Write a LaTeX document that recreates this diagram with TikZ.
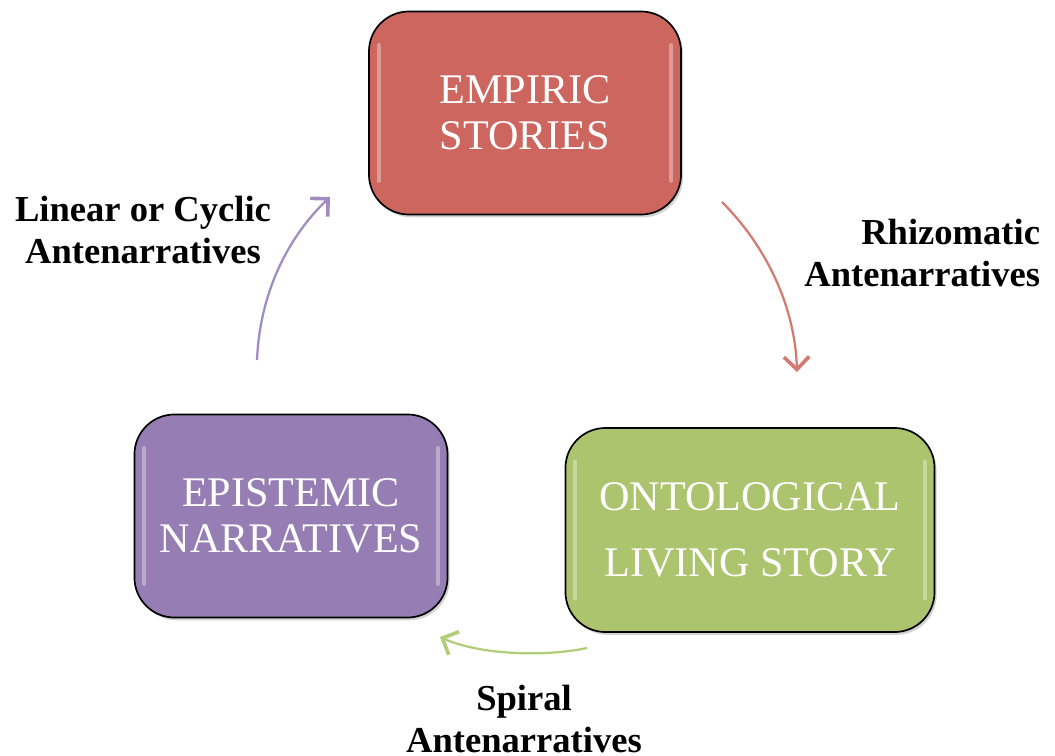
\documentclass[tikz,border=0pt]{standalone}
\usepackage{fontspec}
\setmainfont{Liberation Serif}
\usepackage{xcolor}
\usetikzlibrary{arrows.meta,shapes,positioning,shadows}

\definecolor{empred}{RGB}{205,102,94}
\definecolor{ontgreen}{RGB}{173,196,111}
\definecolor{epipurple}{RGB}{150,126,180}
\definecolor{arrred}{RGB}{212,122,114}
\definecolor{arrgreen}{RGB}{176,206,122}
\definecolor{arrpurple}{RGB}{160,140,192}

\tikzset{
  storybox/.style={rectangle,rounded corners=1cm,draw=black,line width=1.2pt,
    text=white,align=center,font=\fontsize{30}{33}\selectfont,
    drop shadow={shadow xshift=1.5pt,shadow yshift=-2pt,opacity=0.35},
    path picture={
      \draw[white,opacity=0.35,line width=3pt,line cap=round]
        ([xshift=7pt,yshift=-24pt]path picture bounding box.north west) --
        ([xshift=7pt,yshift=24pt]path picture bounding box.south west);
      \draw[white,opacity=0.35,line width=3pt,line cap=round]
        ([xshift=-7pt,yshift=-24pt]path picture bounding box.north east) --
        ([xshift=-7pt,yshift=24pt]path picture bounding box.south east);
    }},
  antearrow/.style={line width=1.6pt,
    -{Straight Barb[length=9pt,width=18pt,line width=2.6pt]}},
  antelabel/.style={font=\fontsize{26}{30}\selectfont\bfseries,align=center}
}

\begin{document}
\begin{tikzpicture}[x=0.025cm,y=-0.025cm]
\useasboundingbox (0,0) rectangle (1055,756);

% The three kinds of story
\node[storybox,fill=empred,minimum width=7.8cm,minimum height=5.075cm] (emp) at (525,113) {EMPIRIC\\STORIES};
\node[storybox,fill=ontgreen,minimum width=9.225cm,minimum height=5.1cm,
  font=\fontsize{30}{47}\selectfont] (ont) at (750,530) {ONTOLOGICAL\\LIVING STORY};
\node[storybox,fill=epipurple,minimum width=7.825cm,minimum height=5.075cm] (epi) at (291,516) {EPISTEMIC\\NARRATIVES};

% Arrow ends
\coordinate (r1) at (722,202);
\coordinate (r2) at (797,372);
\coordinate (g1) at (587,648);
\coordinate (g2) at (440,637);
\coordinate (p1) at (257,360);
\coordinate (p2) at (330,197);

% Antenarratives in between
\draw[antearrow,arrred] (r1) .. controls (765,245) and (795,305) .. (r2);
\draw[antearrow,arrgreen] (g1) .. controls (545,657) and (480,655) .. (g2);
\draw[antearrow,arrpurple] (p1) .. controls (260,290) and (290,235) .. (p2);

\node[antelabel] (lin) at (143,230) {Linear or Cyclic\\Antenarratives};
\node[antelabel,align=right,anchor=east] (rhi) at (1045,253) {Rhizomatic\\Antenarratives};
\node[antelabel] (spi) at (524,719) {Spiral\\Antenarratives};
\end{tikzpicture}
\end{document}
